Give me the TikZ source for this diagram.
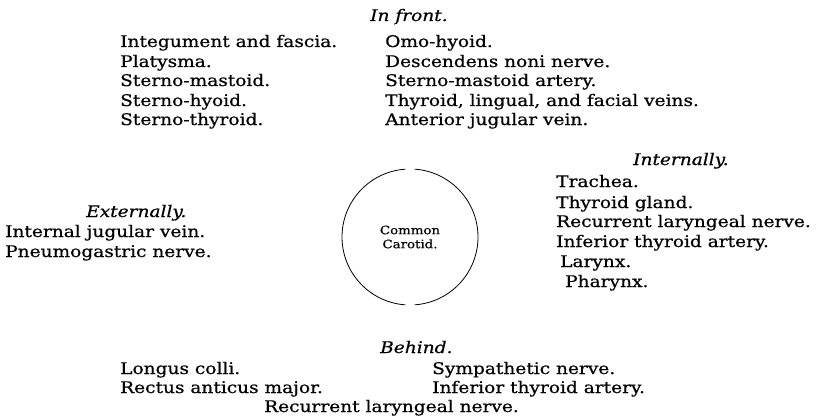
\documentclass[tikz,border=0pt]{standalone}
\usepackage{fontspec}
\setmainfont{DejaVu Serif}[FakeStretch=1.16,FakeBold=0.6]
\begin{document}
\begin{tikzpicture}[x=1pt,y=-1pt,
  item/.style={anchor=base west,inner sep=0pt,font=\fontsize{16}{19}\selectfont},
  head/.style={anchor=base west,inner sep=0pt,font=\fontsize{16}{19}\selectfont\itshape},
  vessel/.style={circle,minimum size=136pt,inner sep=0pt,outer sep=0pt,
    font=\fontsize{11.5}{14}\selectfont,align=center},
  rim/.style={line width=0.8pt}]
\useasboundingbox (0,0) rectangle (824,417);
% In front
\node[head] (front) at (370,21) {In front.};
\node[item] (f1) at (120,47) {Integument and fascia.};
\node[item] (f2) at (120,67) {Platysma.};
\node[item] (f3) at (120,86) {Sterno-mastoid.};
\node[item] (f4) at (120,106) {Sterno-hyoid.};
\node[item] (f5) at (120,125) {Sterno-thyroid.};
\node[item] (f6) at (385,47) {Omo-hyoid.};
\node[item] (f7) at (385,67) {Descendens noni nerve.};
\node[item] (f8) at (385,86) {Sterno-mastoid artery.};
\node[item] (f9) at (385,106) {Thyroid, lingual, and facial veins.};
\node[item] (f10) at (385,125) {Anterior jugular vein.};
% Internally
\node[head] (inner) at (633,165) {Internally.};
\node[item] (i1) at (556,187) {Trachea.};
\node[item] (i2) at (556,208) {Thyroid gland.};
\node[item] (i3) at (556,227) {Recurrent laryngeal nerve.};
\node[item] (i4) at (556,247) {Inferior thyroid artery.};
\node[item] (i5) at (560,267) {Larynx.};
\node[item] (i6) at (565,287) {Pharynx.};
% Externally
\node[head] (outer) at (86,217) {Externally.};
\node[item] (e1) at (5,237) {Internal jugular vein.};
\node[item] (e2) at (5,257) {Pneumogastric nerve.};
% centre
\node[vessel] (cc) at (410,237) {Common\\Carotid.};
\draw[rim] (cc.94) arc[start angle=94,end angle=266,radius=68pt];
\draw[rim] (cc.274) arc[start angle=274,end angle=446,radius=68pt];
% Behind
\node[head] (behind) at (380,353) {Behind.};
\node[item] (b1) at (120,374) {Longus colli.};
\node[item] (b2) at (120,393) {Rectus anticus major.};
\node[item] (b3) at (432,374) {Sympathetic nerve.};
\node[item] (b4) at (432,393) {Inferior thyroid artery.};
\node[item] (b5) at (264,412) {Recurrent laryngeal nerve.};
\end{tikzpicture}
\end{document}
